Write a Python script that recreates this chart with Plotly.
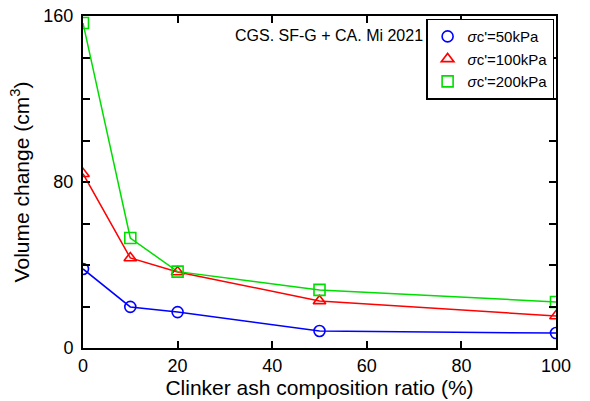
import plotly.graph_objects as go

x_vals = [0, 10, 20, 50, 100]
v50 = [38.1, 19.8, 17.3, 8.2, 7.2]
v100 = [84.0, 43.4, 36.6, 22.7, 15.4]
v200 = [156.6, 53.0, 36.8, 28.0, 22.2]
names = ["<i>σ</i>c'=50kPa", "<i>σ</i>c'=100kPa", "<i>σ</i>c'=200kPa"]
colors = ["#0000ff", "#ff0000", "#00dd00"]
symbols = ["circle-open", "triangle-up-open", "square-open"]
x_ticks = [0, 20, 40, 60, 80, 100]
y_ticks = [0, 80, 160]

FONT = "Liberation Sans, Arial"

fig = go.Figure()
for ys, nm, c, s in zip([v50, v100, v200], names, colors, symbols):
    fig.add_trace(go.Scatter(
        x=x_vals, y=ys, mode="lines", showlegend=False, hoverinfo="skip",
        line=dict(color=c, width=1.5),
    ))
for ys, nm, c, s in zip([v50, v100, v200], names, colors, symbols):
    fig.add_trace(go.Scatter(
        x=x_vals, y=ys, name=nm, mode="markers",
        marker=dict(symbol=s, size=11, color=c, line=dict(color=c, width=1.6)),
    ))

axis_common = dict(
    showgrid=False, zeroline=False, showline=True, linecolor="black", linewidth=2,
    mirror="ticks", ticks="inside", ticklen=7, tickwidth=1.5, tickcolor="black",
    tickfont=dict(family=FONT, size=18, color="black"), automargin=False,
)
fig.update_xaxes(range=[0, 100], tickvals=x_ticks,
                 title=dict(text="Clinker ash composition ratio (%)",
                            font=dict(family=FONT, size=21, color="black"),
                            standoff=4),
                 **axis_common)
fig.update_yaxes(range=[0, 160], tickvals=y_ticks,
                 minor=dict(dtick=20, tick0=0, ticks="inside", ticklen=7, tickwidth=1.5, tickcolor="black"),
                 ticklabelstandoff=4,
                 title=dict(text="Volume change (cm<sup>3</sup>)",
                            font=dict(family=FONT, size=21, color="black"),
                            standoff=8),
                 **axis_common)

fig.add_annotation(x=0.723, y=0.94, xref="paper", yref="paper", xanchor="right", yanchor="middle",
                   text="CGS. SF-G + CA. Mi 2021", showarrow=False,
                   font=dict(family=FONT, size=16, color="black"))

fig.update_layout(
    width=590, height=401,
    margin=dict(l=83, r=34, t=16, b=53),
    plot_bgcolor="white", paper_bgcolor="white",
    legend=dict(x=0.996, y=0.992, xanchor="right", yanchor="top",
                bordercolor="black", borderwidth=1.5, bgcolor="white",
                font=dict(family=FONT, size=15, color="black"),
                tracegroupgap=0, itemwidth=30),
    showlegend=True,
)
fig.write_html("out.html", config={"displayModeBar": False},
               post_script="document.body.style.margin='0px';document.body.style.padding='0px';")
